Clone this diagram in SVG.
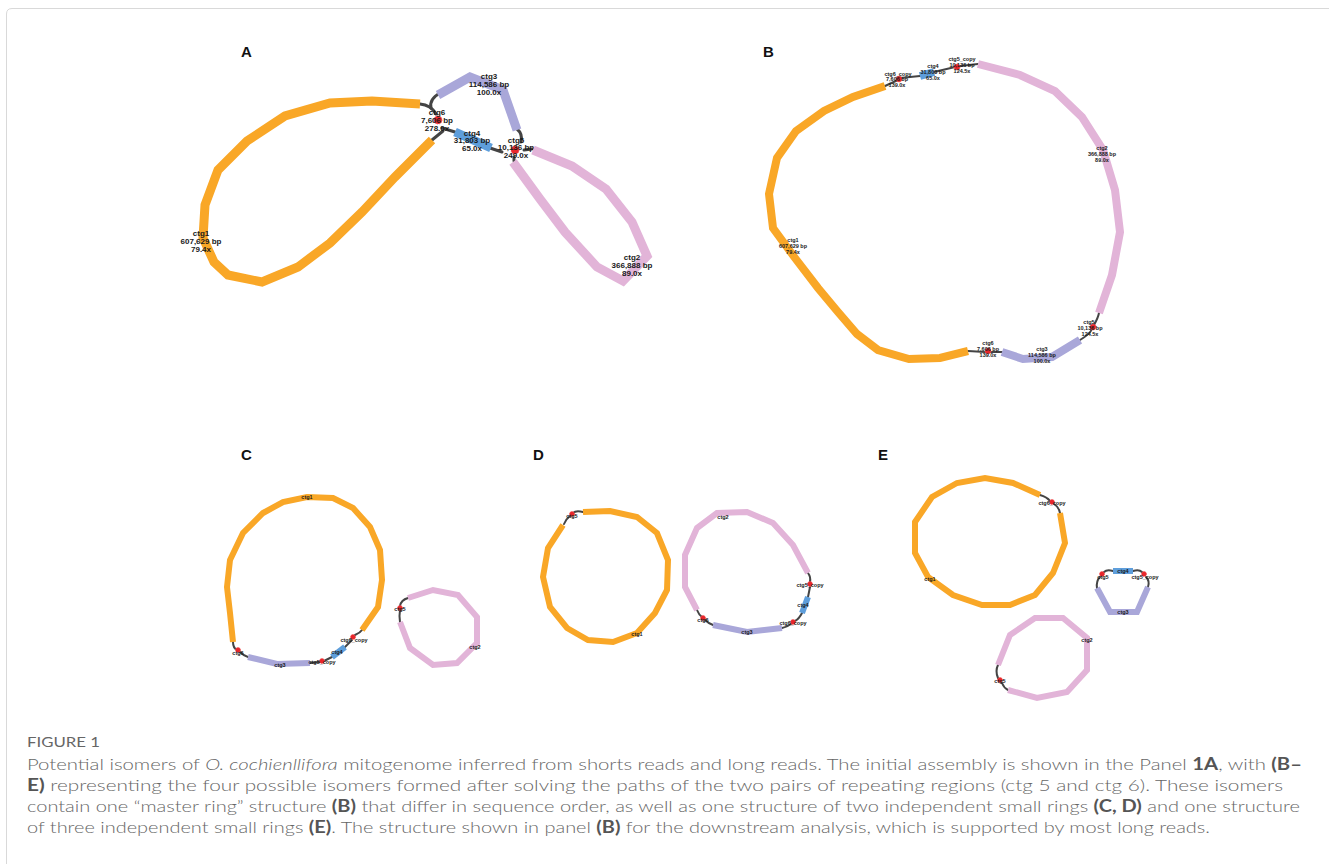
<svg xmlns="http://www.w3.org/2000/svg" width="1329" height="864" viewBox="0 0 1329 864">
<style>
.bg{fill:#fff}
.frame{fill:none;stroke:#d9d9d9;stroke-width:1}
.pl{font-family:"Liberation Sans",Arial,sans-serif;font-weight:bold;font-size:15px;fill:#111}
.seg{fill:none;stroke-linejoin:miter;stroke-linecap:butt}
.o{stroke:#F9A727}
.p{stroke:#E2B4D8}
.l{stroke:#A9A7D9}
.b{stroke:#5E9EDB}
.wA{stroke-width:9}
.wB{stroke-width:8}
.wC{stroke-width:6}
.cn{fill:none;stroke:#444;stroke-linecap:round}
.cA{stroke-width:3}
.cS{stroke-width:2}
.rn{fill:#E8262B;stroke:#f25a5a;stroke-dasharray:1 1;stroke-width:1}
.t{font-family:"Liberation Sans",Arial,sans-serif;font-weight:bold;fill:#1a1a1a;text-anchor:middle}
.tA{font-size:8px}
.tS{font-size:5.5px}
.cap{font-family:Lato,"Open Sans","Liberation Sans",sans-serif;font-weight:300;fill:#666;font-size:16.5px}
.capb{font-weight:bold;fill:#555}
.fig{font-family:Lato,"Open Sans","Liberation Sans",sans-serif;fill:#666;font-size:14px}
</style>
<rect class="bg" x="0" y="0" width="1329" height="864"/>
<path class="frame" d="M6.5,864 V14 Q6.5,8.5 12,8.5 H1329"/>

<g id="labels">
<text class="pl" x="241" y="57">A</text>
<text class="pl" x="763" y="57">B</text>
<text class="pl" x="241" y="460">C</text>
<text class="pl" x="533" y="460">D</text>
<text class="pl" x="878" y="460">E</text>
</g>

<g id="connectors">
<!-- Panel A -->
<path class="cn cA" d="M420,104 Q431,105 436,114"/>
<path class="cn cA" d="M440,93 Q429,99 431,108"/>
<path class="cn cA" d="M432,140 L443,131"/>
<path class="cn cA" d="M442,128 L455,132"/>
<path class="cn cA" d="M490,148 L502,152"/>
<path class="cn cA" d="M517,129 Q523,134 521,142"/>
<path class="cn cA" d="M524,150 L532,149"/>
<path class="cn cA" d="M514,157 L514,161"/>
<!-- Panel B -->
<path class="cn cS" d="M885,86 L898,80"/>
<path class="cn cS" d="M900,78 L920,76"/>
<path class="cn cS" d="M934,72 L955,67"/>
<path class="cn cS" d="M960,66 L978,64"/>
<path class="cn cS" d="M968,351 L985,352"/>
<path class="cn cS" d="M991,352 L1002,352"/>
<path class="cn cS" d="M1080,340 Q1090,334 1092,329"/>
<path class="cn cS" d="M1094,325 Q1098,318 1099,313"/>
<!-- Panel C -->
<path class="cn cS" d="M233,642 Q233,648 237,650"/>
<path class="cn cS" d="M240,652 Q244,656 248,657"/>
<path class="cn cS" d="M310,663 L320,662"/>
<path class="cn cS" d="M324,661 L332,657"/>
<path class="cn cS" d="M345,647 L352,640"/>
<path class="cn cS" d="M355,635 Q360,633 362,630"/>
<path class="cn cS" d="M408,598 Q401,600 400,606"/>
<path class="cn cS" d="M400,610 Q399,616 400,622"/>
<!-- Panel D -->
<path class="cn cS" d="M583,512 Q576,510 573,513"/>
<path class="cn cS" d="M570,516 Q566,519 564,524"/>
<path class="cn cS" d="M808,573 Q811,577 810,582"/>
<path class="cn cS" d="M810,587 L808,597"/>
<path class="cn cS" d="M802,613 Q799,619 795,621"/>
<path class="cn cS" d="M791,624 Q787,627 782,628"/>
<path class="cn cS" d="M697,610 Q699,615 702,617"/>
<path class="cn cS" d="M705,620 Q708,623 713,625"/>
<!-- Panel E -->
<path class="cn cS" d="M1040,495 Q1047,497 1050,501"/>
<path class="cn cS" d="M1054,504 Q1059,507 1060,513"/>
<path class="cn cS" d="M1104,572 Q1107,569 1113,571"/>
<path class="cn cS" d="M1133,571 Q1139,569 1142,572"/>
<path class="cn cS" d="M1100,577 Q1096,581 1097,588"/>
<path class="cn cS" d="M1146,577 Q1150,581 1148,587"/>
<path class="cn cS" d="M998,665 Q995,671 998,678"/>
<path class="cn cS" d="M1002,683 Q1004,688 1008,690"/>
</g>

<g id="panelA-ctg1">
<polyline class="seg o wA" points="420,104 372,101 330,103 285,116 247,141 218,170 205,205 203,238 214,262 228,275 262,282 298,267 330,243 362,212 395,177 432,140"/>
<text class="t tA" x="201" y="236">ctg1</text>
<text class="t tA" x="201" y="244">607,629 bp</text>
<text class="t tA" x="201" y="252">79.4x</text>
</g>
<g id="panelA-ctg3">
<polyline class="seg l wA" points="438,95 470,77 503,90 517,130"/>
<text class="t tA" x="489" y="79">ctg3</text>
<text class="t tA" x="489" y="87">114,586 bp</text>
<text class="t tA" x="489" y="95">100.0x</text>
</g>
<g id="panelA-ctg6">
<circle class="rn" cx="438" cy="120" r="4"/>
<text class="t tA" x="437" y="115">ctg6</text>
<text class="t tA" x="437" y="123">7,606 bp</text>
<text class="t tA" x="437" y="131">278.0x</text>
</g>
<g id="panelA-ctg4">
<polyline class="seg b wA" points="455,132 473,140 491,148"/>
<text class="t tA" x="472" y="136">ctg4</text>
<text class="t tA" x="472" y="143">31,803 bp</text>
<text class="t tA" x="472" y="151">65.0x</text>
</g>
<g id="panelA-ctg5">
<circle class="rn" cx="515" cy="150" r="4"/>
<text class="t tA" x="516" y="143">ctg5</text>
<text class="t tA" x="516" y="150">10,136 bp</text>
<text class="t tA" x="516" y="158">249.0x</text>
</g>
<g id="panelA-ctg2">
<polyline class="seg p wA" points="533,150 572,166 606,189 632,222 647,256 623,281 597,267 565,232 540,199 513,162"/>
<text class="t tA" x="632" y="260">ctg2</text>
<text class="t tA" x="632" y="268">366,888 bp</text>
<text class="t tA" x="632" y="276">89.0x</text>
</g>

<g id="panelB-ctg1">
<polyline class="seg o wB" points="885,86 853,97 824,111 796,131 777,158 769,194 773,228 795,258 818,288 838,312 857,334 878,350 909,359 940,358 968,351"/>
<text class="t tS" x="793" y="242">ctg1</text>
<text class="t tS" x="793" y="248">607,629 bp</text>
<text class="t tS" x="793" y="254">79.4x</text>
</g>
<g id="panelB-ctg6-copy">
<circle class="rn" cx="899" cy="79" r="3"/>
<text class="t tS" x="898" y="76">ctg6_copy</text>
<text class="t tS" x="897" y="81">7,606 bp</text>
<text class="t tS" x="897" y="87">139.0x</text>
</g>
<g id="panelB-ctg4">
<polyline class="seg b wB" stroke-width="5" points="920,76 934,72"/>
<text class="t tS" x="933" y="68">ctg4</text>
<text class="t tS" x="933" y="74">31,803 bp</text>
<text class="t tS" x="933" y="80">65.0x</text>
</g>
<g id="panelB-ctg5-copy">
<circle class="rn" cx="957" cy="67" r="3"/>
<text class="t tS" x="962" y="61">ctg5_copy</text>
<text class="t tS" x="962" y="67">10,136 bp</text>
<text class="t tS" x="962" y="73">124.5x</text>
</g>
<g id="panelB-ctg2">
<polyline class="seg p wB" points="978,64 1020,75 1055,91 1082,117 1103,150 1115,190 1120,232 1112,275 1099,313"/>
<text class="t tS" x="1102" y="150">ctg2</text>
<text class="t tS" x="1102" y="156">366,888 bp</text>
<text class="t tS" x="1102" y="162">89.0x</text>
</g>
<g id="panelB-ctg5">
<circle class="rn" cx="1093" cy="327" r="3"/>
<text class="t tS" x="1089" y="324">ctg5</text>
<text class="t tS" x="1090" y="330">10,136 bp</text>
<text class="t tS" x="1090" y="336">124.5x</text>
</g>
<g id="panelB-ctg3">
<polyline class="seg l wB" points="1002,352 1023,359 1052,357 1080,340"/>
<text class="t tS" x="1042" y="351">ctg3</text>
<text class="t tS" x="1042" y="357">114,586 bp</text>
<text class="t tS" x="1042" y="363">100.0x</text>
</g>
<g id="panelB-ctg6">
<circle class="rn" cx="988" cy="351" r="3"/>
<text class="t tS" x="988" y="345">ctg6</text>
<text class="t tS" x="988" y="351">7,606 bp</text>
<text class="t tS" x="988" y="357">139.0x</text>
</g>

<g id="panelC-ctg1">
<polyline class="seg o wC" points="362,630 378,607 382,580 380,550 370,527 353,508 333,498 307,497 283,502 263,513 243,533 230,560 227,587 230,613 233,642"/>
<text class="t tS" x="307" y="499">ctg1</text>
</g>
<g id="panelC-ctg6">
<circle class="rn" cx="238" cy="650" r="2.5"/>
<text class="t tS" x="238" y="655">ctg6</text>
</g>
<g id="panelC-ctg3">
<polyline class="seg l wC" points="248,657 277,664 310,663"/>
<text class="t tS" x="280" y="667">ctg3</text>
</g>
<g id="panelC-ctg5-copy">
<circle class="rn" cx="322" cy="661" r="2.5"/>
<text class="t tS" x="322" y="664">ctg5_copy</text>
</g>
<g id="panelC-ctg4">
<polyline class="seg b wC" points="332,657 345,647"/>
<text class="t tS" x="337" y="654">ctg4</text>
</g>
<g id="panelC-ctg6-copy">
<circle class="rn" cx="353" cy="637" r="2.5"/>
<text class="t tS" x="354" y="642">ctg6_copy</text>
</g>
<g id="panelC-ctg2">
<polyline class="seg p wC" points="408,598 433,590 458,595 477,617 477,643 457,663 433,665 410,648 400,622"/>
<text class="t tS" x="475" y="649">ctg2</text>
</g>
<g id="panelC-ctg5">
<circle class="rn" cx="400" cy="608" r="2.5"/>
<text class="t tS" x="400" y="611">ctg5</text>
</g>

<g id="panelD-ctg1">
<polyline class="seg o wC" points="583,512 610,511 637,517 657,533 668,560 667,590 655,613 637,633 613,642 588,640 567,628 550,607 543,577 548,548 563,525"/>
<text class="t tS" x="637" y="636">ctg1</text>
</g>
<g id="panelD-ctg5">
<circle class="rn" cx="572" cy="514" r="2.5"/>
<text class="t tS" x="572" y="518">ctg5</text>
</g>
<g id="panelD-ctg2">
<polyline class="seg p wC" points="697,610 685,587 685,555 697,528 717,513 747,512 773,523 793,545 808,573"/>
<text class="t tS" x="723" y="519">ctg2</text>
</g>
<g id="panelD-ctg5-copy">
<circle class="rn" cx="810" cy="584" r="2.5"/>
<text class="t tS" x="810" y="587">ctg5_copy</text>
</g>
<g id="panelD-ctg4">
<polyline class="seg b wC" points="808,597 802,613"/>
<text class="t tS" x="803" y="607">ctg4</text>
</g>
<g id="panelD-ctg6-copy">
<circle class="rn" cx="793" cy="622" r="2.5"/>
<text class="t tS" x="793" y="625">ctg6_copy</text>
</g>
<g id="panelD-ctg3">
<polyline class="seg l wC" points="782,628 747,632 713,625"/>
<text class="t tS" x="747" y="634">ctg3</text>
</g>
<g id="panelD-ctg6">
<circle class="rn" cx="703" cy="618" r="2.5"/>
<text class="t tS" x="703" y="622">ctg6</text>
</g>

<g id="panelE-ctg1">
<polyline class="seg o wC" points="1040,495 1013,483 985,478 957,483 932,497 915,522 915,553 928,577 953,595 982,605 1010,605 1035,595 1053,573 1065,543 1060,513"/>
<text class="t tS" x="930" y="581">ctg1</text>
</g>
<g id="panelE-ctg6-copy">
<circle class="rn" cx="1052" cy="502" r="2.5"/>
<text class="t tS" x="1052" y="505">ctg6_copy</text>
</g>
<g id="panelE-ctg4">
<polyline class="seg b wC" points="1113,571 1133,571"/>
<text class="t tS" x="1123" y="573">ctg4</text>
</g>
<g id="panelE-ctg5">
<circle class="rn" cx="1102" cy="574" r="2.5"/>
<text class="t tS" x="1103" y="579">ctg5</text>
</g>
<g id="panelE-ctg5-copy">
<circle class="rn" cx="1144" cy="574" r="2.5"/>
<text class="t tS" x="1145" y="579">ctg5_copy</text>
</g>
<g id="panelE-ctg3">
<polyline class="seg l wC" points="1097,588 1110,612 1137,612 1148,587"/>
<text class="t tS" x="1123" y="614">ctg3</text>
</g>
<g id="panelE-ctg2">
<polyline class="seg p wC" points="998,665 1010,635 1035,618 1063,618 1087,638 1087,670 1067,692 1037,698 1008,690"/>
<text class="t tS" x="1087" y="642">ctg2</text>
</g>
<g id="panelE-ctg5b">
<circle class="rn" cx="1000" cy="680" r="2.5"/>
<text class="t tS" x="1000" y="683">ctg5</text>
</g>

<g id="caption">
<text class="fig" x="27" y="747" textLength="73" lengthAdjust="spacingAndGlyphs">FIGURE 1</text>
<text class="cap" x="27" y="770" textLength="1275" lengthAdjust="spacingAndGlyphs">Potential isomers of <tspan font-style="italic">O. cochienllifora</tspan> mitogenome inferred from shorts reads and long reads. The initial assembly is shown in the Panel <tspan class="capb">1A</tspan>, with <tspan class="capb">(B–</tspan></text>
<text class="cap" x="27" y="791" textLength="1256" lengthAdjust="spacingAndGlyphs"><tspan class="capb">E)</tspan> representing the four possible isomers formed after solving the paths of the two pairs of repeating regions (ctg 5 and ctg 6). These isomers</text>
<text class="cap" x="27" y="812" textLength="1273" lengthAdjust="spacingAndGlyphs">contain one “master ring” structure <tspan class="capb">(B)</tspan> that differ in sequence order, as well as one structure of two independent small rings <tspan class="capb">(C, D)</tspan> and one structure</text>
<text class="cap" x="27" y="833" textLength="1183" lengthAdjust="spacingAndGlyphs">of three independent small rings <tspan class="capb">(E)</tspan>. The structure shown in panel <tspan class="capb">(B)</tspan> for the downstream analysis, which is supported by most long reads.</text>
</g>
</svg>
